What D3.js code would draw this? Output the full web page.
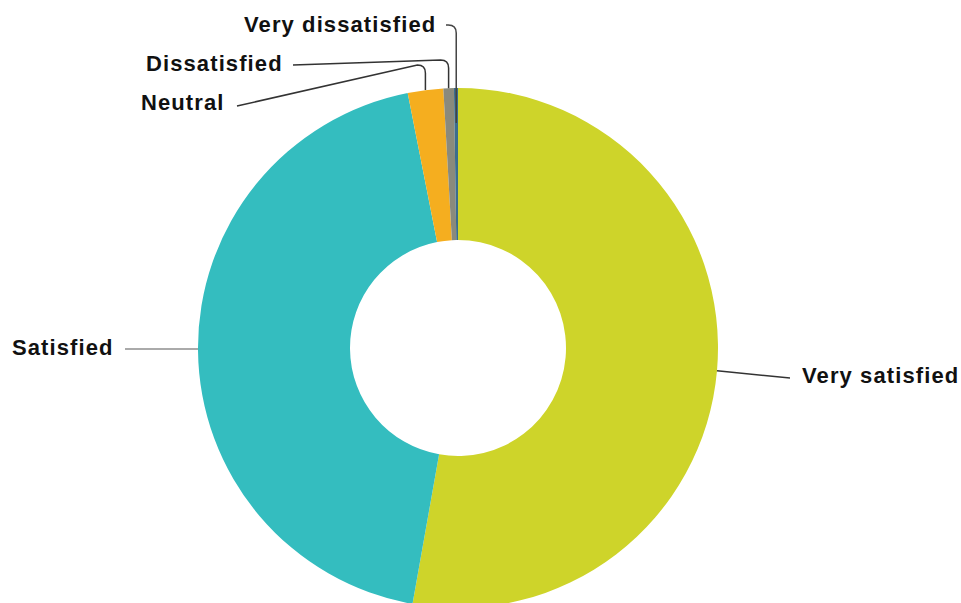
<!DOCTYPE html>
<html>
<head>
<meta charset="utf-8">
<script src="https://cdn.jsdelivr.net/npm/d3@7/dist/d3.min.js"></script>
<style>
  html, body { margin: 0; padding: 0; background: #fff; }
  svg { display: block; }
</style>
</head>
<body>
<svg id="chart" width="961" height="603"></svg>
<script>
// ---- Data ----
const categories = ["Very satisfied", "Satisfied", "Neutral", "Dissatisfied", "Very dissatisfied"];
const values = [52.8, 44.1, 2.2, 0.65, 0.25];
const colors = ["#CED42A", "#34BDBF", "#F5AE1F", "#8A8A7C", "#3C6D8C"];

// ---- Layout (positions only) ----
const W = 961, H = 603;
const cx = 458, cy = 348, outerR = 260, innerR = 108;
const labelLayout = {
  "Very satisfied":    { tx: 802, ty: 383, line: { type: "straight", sx: 790, sy: 378, r: 260, color: "#333" } },
  "Satisfied":         { tx: 12,  ty: 355, line: { type: "horizontal", sx: 125, sy: 349, r: 260, color: "#aaa" } },
  "Neutral":           { tx: 141, ty: 110, line: { type: "elbow", sx: 237, sy: 106, ey: 65, r: 260, color: "#333" } },
  "Dissatisfied":      { tx: 146, ty: 71,  line: { type: "elbow", sx: 293, sy: 65, ey: 60, r: 260, color: "#333" } },
  "Very dissatisfied": { tx: 244, ty: 32,  line: { type: "elbow", sx: 446, sy: 25, ey: 25, r: 225, color: "#444" } }
};

const svg = d3.select("#chart");
const g = svg.append("g").attr("transform", `translate(${cx},${cy})`);

const data = categories.map((c, i) => ({ name: c, value: values[i], color: colors[i] }));
const pie = d3.pie().value(d => d.value).sort(null);
const arcs = pie(data);
const arc = d3.arc().innerRadius(innerR).outerRadius(outerR);

g.selectAll("path.slice")
  .data(arcs)
  .join("path")
  .attr("class", "slice")
  .attr("d", arc)
  .attr("fill", d => d.data.color);

// Leader lines
const lines = svg.append("g");
arcs.forEach(a => {
  const L = labelLayout[a.data.name];
  const mid = (a.startAngle + a.endAngle) / 2;
  const px = cx + L.line.r * Math.sin(mid);
  const py = cy - L.line.r * Math.cos(mid);
  let d;
  if (L.line.type === "straight") {
    d = `M${L.line.sx},${L.line.sy}L${px},${py}`;
  } else if (L.line.type === "horizontal") {
    const dy = L.line.sy - cy;
    const ex = cx - Math.sqrt(L.line.r * L.line.r - dy * dy);
    d = `M${L.line.sx},${L.line.sy}L${ex},${L.line.sy}`;
  } else {
    const ey = L.line.ey, rr = 8;
    d = `M${L.line.sx},${L.line.sy}L${px - rr},${ey}Q${px},${ey} ${px},${ey + rr}L${px},${py}`;
  }
  lines.append("path")
    .attr("d", d)
    .attr("fill", "none")
    .attr("stroke", L.line.color)
    .attr("stroke-width", L.line.color === "#aaa" ? 2.2 : 1.5);
});

// Labels
svg.append("g").selectAll("text")
  .data(arcs)
  .join("text")
  .attr("x", d => labelLayout[d.data.name].tx)
  .attr("y", d => labelLayout[d.data.name].ty)
  .attr("font-family", "Liberation Sans, Arial, sans-serif")
  .attr("font-weight", "bold")
  .attr("font-size", 22)
  .attr("letter-spacing", 1.1)
  .attr("fill", "#111")
  .text(d => d.data.name);
</script>
</body>
</html>
